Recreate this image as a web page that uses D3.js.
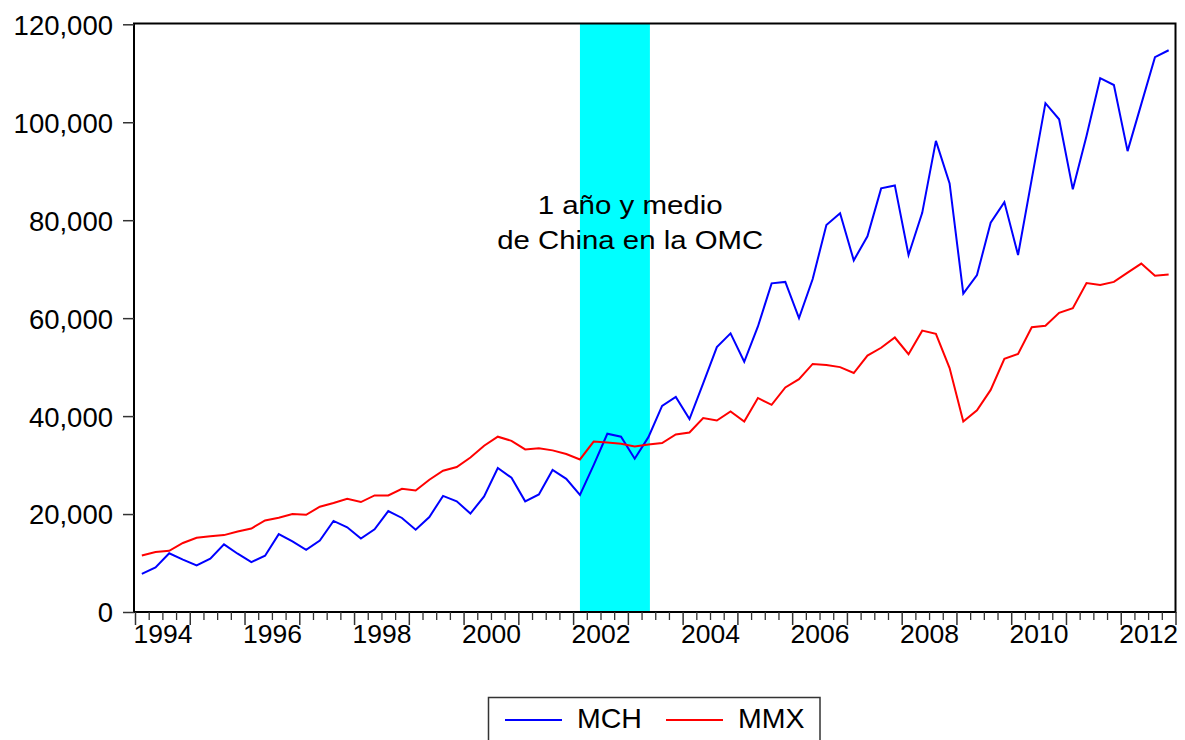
<!DOCTYPE html>
<html>
<head>
<meta charset="utf-8">
<script src="https://cdn.jsdelivr.net/npm/d3@7/dist/d3.min.js"></script>
<style>
  html, body { margin: 0; padding: 0; background: #ffffff; }
  svg { display: block; font-family: "Liberation Sans", Arial, sans-serif; }
</style>
</head>
<body>
<svg id="chart" width="1185" height="740"></svg>
<script>
// ---- data ----
const periods = [
  "1994Q1","1994Q2","1994Q3","1994Q4","1995Q1","1995Q2","1995Q3","1995Q4",
  "1996Q1","1996Q2","1996Q3","1996Q4","1997Q1","1997Q2","1997Q3","1997Q4",
  "1998Q1","1998Q2","1998Q3","1998Q4","1999Q1","1999Q2","1999Q3","1999Q4",
  "2000Q1","2000Q2","2000Q3","2000Q4","2001Q1","2001Q2","2001Q3","2001Q4",
  "2002Q1","2002Q2","2002Q3","2002Q4","2003Q1","2003Q2","2003Q3","2003Q4",
  "2004Q1","2004Q2","2004Q3","2004Q4","2005Q1","2005Q2","2005Q3","2005Q4",
  "2006Q1","2006Q2","2006Q3","2006Q4","2007Q1","2007Q2","2007Q3","2007Q4",
  "2008Q1","2008Q2","2008Q3","2008Q4","2009Q1","2009Q2","2009Q3","2009Q4",
  "2010Q1","2010Q2","2010Q3","2010Q4","2011Q1","2011Q2","2011Q3","2011Q4",
  "2012Q1","2012Q2","2012Q3","2012Q4"
];
const MCH = [
  7800, 9100, 12000, 10700, 9500, 10900, 13800, 11900,
  10200, 11500, 15900, 14400, 12700, 14600, 18600, 17300,
  15000, 16900, 20600, 19200, 16800, 19400, 23700, 22600,
  20100, 23600, 29400, 27400, 22600, 24000, 29000, 27200,
  23900, 30000, 36400, 35800, 31300, 35700, 42100, 43900,
  39400, 46700, 54100, 56900, 51100, 58300, 67100, 67400,
  60000, 68000, 79000, 81400, 71800, 76700, 86500, 87100,
  72900, 81500, 96200, 87500, 65000, 68800, 79500, 83700,
  72900, 88400, 103900, 100600, 86300, 97200, 109000, 107600,
  94100, 103700, 113300, 114700
];
const MMX = [
  11550, 12250, 12500, 14100, 15150, 15450, 15700, 16450,
  17050, 18700, 19250, 20000, 19850, 21500, 22250, 23100,
  22450, 23800, 23800, 25150, 24800, 27000, 28850, 29600,
  31550, 33950, 35800, 34950, 33200, 33450, 33000, 32250,
  31150, 34800, 34600, 34350, 33800, 34200, 34500, 36250,
  36650, 39600, 39100, 40950, 38900, 43700, 42300, 45850,
  47550, 50650, 50450, 50000, 48800, 52350, 53950, 56050,
  52650, 57450, 56800, 49800, 38900, 41200, 45350, 51700,
  52700, 58150, 58450, 61100, 62050, 67150, 66750, 67400,
  69300, 71150, 68650, 68900
];
const seriesNames = ["MCH", "MMX"];
const seriesColors = ["#0000ff", "#ff0000"];
const yTicks = [0, 20000, 40000, 60000, 80000, 100000, 120000];
const yearLabels = [1994, 1996, 1998, 2000, 2002, 2004, 2006, 2008, 2010, 2012];
const shadeStart = "2002Q1";
const shadeEnd = "2003Q2";
const annotation = ["1 año y medio", "de China en la OMC"];

// ---- layout ----
const svg = d3.select("#chart");
const plotLeft = 134, plotRight = 1175.5, plotTop = 23.5, plotBottom = 612;
const firstYear = 1994, lastYearEnd = 2013;

const x = d3.scaleLinear().domain([firstYear, lastYearEnd]).range([135, 1175.5]);
const y = d3.scaleLinear().domain([0, 120000]).range([plotBottom, 24.3]);

function periodPos(p) {
  const yr = +p.slice(0, 4), q = +p.slice(5);
  return yr + (q - 1) / 4 + 0.125;
}

// shaded band
svg.append("rect")
  .attr("x", x(periodPos(shadeStart)))
  .attr("y", plotTop)
  .attr("width", x(periodPos(shadeEnd)) - x(periodPos(shadeStart)) + 1.5)
  .attr("height", plotBottom - plotTop)
  .attr("fill", "#00ffff");

// lines
const data = [MCH, MMX];
const line = d3.line()
  .x((d, i) => x(periodPos(periods[i])))
  .y(d => y(d));
data.forEach((s, k) => {
  svg.append("path")
    .datum(s)
    .attr("d", line)
    .attr("fill", "none")
    .attr("stroke", seriesColors[k])
    .attr("stroke-width", 2)
    .attr("stroke-linejoin", "miter");
});

// annotation
const annX = (x(periodPos(shadeStart)) + x(periodPos(shadeEnd))) / 2 + 16;
const annLens = [185, 266];
annotation.forEach((t, i) => {
  svg.append("text")
    .attr("x", annX)
    .attr("y", 213.5 + i * 35)
    .attr("text-anchor", "middle")
    .attr("font-size", 26)
    .attr("fill", "#000")
    .attr("textLength", annLens[i])
    .attr("lengthAdjust", "spacingAndGlyphs")
    .text(t);
});

// frame
svg.append("rect")
  .attr("x", plotLeft).attr("y", plotTop)
  .attr("width", plotRight - plotLeft).attr("height", plotBottom - plotTop)
  .attr("fill", "none").attr("stroke", "#000").attr("stroke-width", 2);

// y axis
const yAxis = d3.axisLeft(y).tickValues(yTicks).tickFormat(d3.format(",")).tickSize(11).tickPadding(10);
const gy = svg.append("g").attr("transform", `translate(${plotLeft},0)`).call(yAxis);
gy.select(".domain").remove();
gy.selectAll(".tick line").attr("stroke", "#333").attr("stroke-width", 1.5);
gy.selectAll(".tick text").attr("font-size", 27.5).attr("fill", "#000")
  .attr("font-family", "'Liberation Sans', Arial, sans-serif").attr("dy", "0.36em");

// x axis: major (years), minor (quarters)
const majorTicks = d3.range(firstYear, lastYearEnd + 1);
const minorTicks = periods.map(p => periodPos(p) - 0.125).filter(v => v % 1 !== 0);
const gxMinor = svg.append("g").attr("transform", `translate(0,${plotBottom})`)
  .call(d3.axisBottom(x).tickValues(minorTicks).tickSize(8).tickFormat(""));
gxMinor.select(".domain").remove();
gxMinor.selectAll(".tick line").attr("stroke", "#333").attr("stroke-width", 1.3);
const gxMajor = svg.append("g").attr("transform", `translate(0,${plotBottom})`)
  .call(d3.axisBottom(x).tickValues(majorTicks).tickSize(13).tickFormat(""));
gxMajor.select(".domain").remove();
gxMajor.selectAll(".tick line").attr("stroke", "#333").attr("stroke-width", 1.5);
const gxLab = svg.append("g").attr("transform", `translate(0,${plotBottom})`)
  .call(d3.axisBottom(x).tickValues(yearLabels.map(v => v + 0.5)).tickSize(0).tickPadding(28)
    .tickFormat(v => String(Math.floor(v))));
gxLab.select(".domain").remove();
gxLab.selectAll(".tick text").attr("font-size", 26.5).attr("fill", "#000")
  .attr("font-family", "'Liberation Sans', Arial, sans-serif").attr("dy", "0.1em");

// legend
const lg = svg.append("g");
lg.append("rect").attr("x", 488.5).attr("y", 697.5).attr("width", 331.5).attr("height", 60)
  .attr("fill", "#fff").attr("stroke", "#333").attr("stroke-width", 1.5);
const legX = [505, 666];
seriesNames.forEach((n, k) => {
  lg.append("line").attr("x1", legX[k]).attr("x2", legX[k] + 57).attr("y1", 720).attr("y2", 720)
    .attr("stroke", seriesColors[k]).attr("stroke-width", 2);
  lg.append("text").attr("x", legX[k] + 72).attr("y", 727.5).attr("font-size", 28.5)
    .attr("fill", "#000").text(n);
});
</script>
</body>
</html>
